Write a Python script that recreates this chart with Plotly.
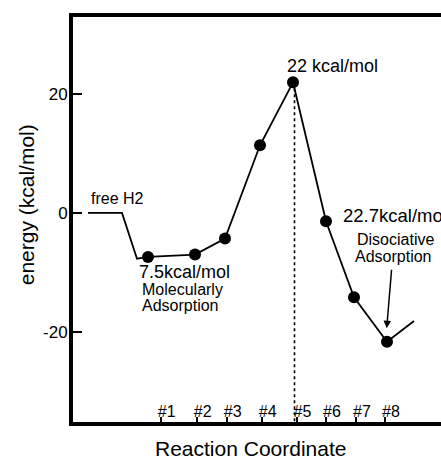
import plotly.graph_objects as go

# ---- data (reaction coordinate in arbitrary units, energy in kcal/mol) ----
path_x = [1.5, 4.9, 6.4, 7.5, 12.2, 15.2, 18.7, 22.0, 25.3, 28.1, 31.4, 34.1]
path_y = [0.0, 0.0, -7.7, -7.4, -7.0, -4.3, 11.4, 22.0, -1.4, -14.2, -21.7, -18.2]

state_x = [7.5, 12.2, 15.2, 18.7, 22.0, 25.3, 28.1, 31.4]
state_y = [-7.4, -7.0, -4.3, 11.4, 22.0, -1.4, -14.2, -21.7]

ts_x = [22.15, 22.15]
ts_y = [22.0, -35.2]

tick_pos = [8.77, 12.37, 15.37, 18.87, 22.35, 25.3, 28.3, 31.2]
tick_text = ["#1", "#2", "#3", "#4", "#5", "#6", "#7", "#8"]

y_ticks = [-20, 0, 20]
y_tick_text = ["-20", "0", "20"]

x_range = [0, 36.8]
y_range = [-35.2, 33.0]

FONT = "Liberation Sans, Arial, Helvetica, sans-serif"

fig = go.Figure()

fig.add_trace(go.Scatter(x=ts_x, y=ts_y, mode="lines",
                         line=dict(color="black", width=1.6, dash="dot"),
                         hoverinfo="skip", showlegend=False))
fig.add_trace(go.Scatter(x=path_x, y=path_y, mode="lines",
                         line=dict(color="black", width=1.8),
                         showlegend=False))
fig.add_trace(go.Scatter(x=state_x, y=state_y, mode="markers",
                         marker=dict(color="black", size=12),
                         showlegend=False))

def txt(x, y, s, size=16, xanchor="center", **kw):
    fig.add_annotation(x=x, y=y, xref="x", yref="y", text=s, showarrow=False,
                       xanchor=xanchor, yanchor="middle",
                       font=dict(family=FONT, size=size, color="black"), **kw)

txt(4.45, 2.5, "free H2", 16)
txt(25.9, 24.8, "22 kcal/mol", 18)
txt(6.4, -9.9, "7.5kcal/mol", 18, xanchor="left")
txt(6.7, -12.9, "Molecularly", 16, xanchor="left")
txt(6.7, -15.6, "Adsorption", 16, xanchor="left")
txt(26.8, -0.35, "22.7kcal/mol", 18.5, xanchor="left")
txt(32.2, -4.55, "Disociative", 16)
txt(32.0, -7.4, "Adsorption", 16)

# arrow pointing at the dissociative minimum
fig.add_annotation(x=31.37, y=-19.4, ax=31.87, ay=-9.3, xref="x", yref="y",
                   axref="x", ayref="y", text="", showarrow=True,
                   arrowhead=2, arrowsize=1, arrowwidth=1.5, arrowcolor="black")

# axis titles
fig.add_annotation(x=0.482, y=-0.065, xref="paper", yref="paper",
                   text="Reaction Coordinate", showarrow=False,
                   xanchor="center", yanchor="middle",
                   font=dict(family=FONT, size=21, color="black"))
fig.add_annotation(x=-0.124, y=0.536, xref="paper", yref="paper",
                   text="energy (kcal/mol)", showarrow=False, textangle=-90,
                   xanchor="center", yanchor="middle",
                   font=dict(family=FONT, size=21, color="black"))

fig.update_layout(
    width=441, height=459,
    margin=dict(l=73, r=0, t=17, b=37, pad=0),
    paper_bgcolor="white", plot_bgcolor="white",
    font=dict(family=FONT, color="black"),
    xaxis=dict(range=x_range, showgrid=False, zeroline=False,
               showline=True, linecolor="black", linewidth=4, mirror=True,
               tickmode="array", tickvals=tick_pos, ticktext=tick_text,
               ticks="inside", ticklen=5, tickwidth=1.5, tickcolor="black",
               ticklabelposition="inside", ticklabelshift=6,
               ticklabelstandoff=-3,
               tickfont=dict(family=FONT, size=16, color="black")),
    yaxis=dict(range=y_range, showgrid=False, zeroline=False,
               showline=True, linecolor="black", linewidth=4, mirror=False,
               tickmode="array", tickvals=y_ticks, ticktext=y_tick_text,
               ticks="inside", ticklen=9, tickwidth=2, tickcolor="black",
               ticklabelstandoff=-2,
               tickfont=dict(family=FONT, size=17, color="black")),
)

fig.write_html("out.html", config={"displayModeBar": False},
               post_script="document.body.style.margin='0';"
                           "document.body.style.overflow='hidden';")
